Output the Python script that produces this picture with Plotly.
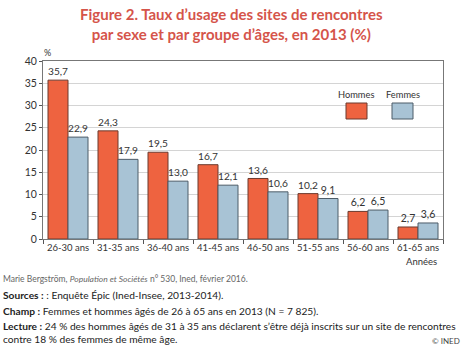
import plotly.graph_objects as go

categories = ["26-30 ans", "31-35 ans", "36-40 ans", "41-45 ans", "46-50 ans", "51-55 ans", "56-60 ans", "61-65 ans"]
hommes = [35.7, 24.3, 19.5, 16.7, 13.6, 10.2, 6.2, 2.7]
femmes = [22.9, 17.9, 13.0, 12.1, 10.6, 9.1, 6.5, 3.6]
y_ticks = [0, 5, 10, 15, 20, 25, 30, 35, 40]

def fmt(v):
    return f"{v:.1f}".replace(".", ",")

FONT = "Lato"
C_H = "#EE6340"
C_F = "#A8C3D5"

fig = go.Figure()
fig.add_trace(go.Bar(x=categories, y=hommes, name="Hommes", marker=dict(color=C_H, line=dict(color="#6b3a2e", width=1)),
                     text=[fmt(v) for v in hommes], textposition="outside", cliponaxis=False,
                     textfont=dict(size=10.5, color="#333333", family=FONT)))
fig.add_trace(go.Bar(x=categories, y=femmes, name="Femmes", marker=dict(color=C_F, line=dict(color="#4d5c68", width=1)),
                     text=[fmt(v) for v in femmes], textposition="outside", cliponaxis=False,
                     textfont=dict(size=10.5, color="#333333", family=FONT)))

W, H = 469, 347
L, R, T, B = 43, 26, 61, 108
pw, ph = W - L - R, H - T - B

fig.update_layout(
    width=W, height=H,
    margin=dict(l=L, r=R, t=T, b=B),
    paper_bgcolor="white", plot_bgcolor="white",
    barmode="group", bargap=0.2, bargroupgap=0,
    showlegend=False,
    font=dict(family=FONT, size=10, color="#333333"),
)
fig.update_xaxes(showline=True, linecolor="#777777", linewidth=1, mirror=True,
                 ticks="outside", tickson="boundaries", ticklen=4, tickcolor="#555555",
                 tickangle=0, tickfont=dict(size=9.5, color="#333333"))
fig.update_yaxes(range=[0, 40], tickvals=y_ticks, showgrid=True, gridcolor="#d4d4d4", gridwidth=1,
                 showline=True, linecolor="#777777", linewidth=1, mirror=True,
                 ticks="outside", ticklen=3, tickcolor="#555555",
                 tickfont=dict(size=10.5, color="#333333"), zeroline=False)

def px(x):
    return (x - L) / pw

def py(y):
    return (H - B - y) / ph

BODY = 10.2
annotations = [
    dict(text="<b>Figure 2. Taux d\u2019usage des sites de rencontres<br>par sexe et par groupe d\u2019âges, en 2013 (%)</b>",
         x=px(231), y=py(24), xanchor="center", yanchor="middle",
         font=dict(size=15, color="#D5544A", family=FONT), align="center"),
    dict(text="%", x=px(47), y=py(52), xanchor="center", yanchor="middle", font=dict(size=9)),
    dict(text="Années", x=px(421), y=py(261), xanchor="center", yanchor="middle", font=dict(size=9.5)),
    dict(text="Hommes", x=px(356), y=py(94), xanchor="center", yanchor="middle", font=dict(size=9.3)),
    dict(text="Femmes", x=px(403), y=py(94), xanchor="center", yanchor="middle", font=dict(size=9.3)),
    dict(text="Marie Bergström, <i>Population et Sociétés</i> n° 530, Ined, février 2016.",
         x=px(1), y=py(279), xanchor="left", yanchor="middle", font=dict(size=8.5, color="#666666")),
    dict(text="<b>Sources :</b> : Enquête Épic (Ined-Insee, 2013-2014).",
         x=px(1), y=py(295), xanchor="left", yanchor="middle", font=dict(size=BODY, color="#222222")),
    dict(text="<b>Champ :</b> Femmes et hommes âgés de 26 à 65 ans en 2013 (N = 7 825).",
         x=px(1), y=py(311), xanchor="left", yanchor="middle", font=dict(size=BODY, color="#222222")),
    dict(text="<b>Lecture :</b> 24 % des hommes âgés de 31 à 35 ans déclarent s\u2019être déjà inscrits sur un site de rencontres",
         x=px(1), y=py(326), xanchor="left", yanchor="middle", font=dict(size=BODY, color="#222222")),
    dict(text="contre 18 % des femmes de même âge.",
         x=px(1), y=py(339), xanchor="left", yanchor="middle", font=dict(size=BODY, color="#222222")),
    dict(text="© INED", x=px(462), y=py(341), xanchor="right", yanchor="middle", font=dict(size=8, color="#444444")),
]
for a in annotations:
    a.update(xref="paper", yref="paper", showarrow=False)
fig.update_layout(annotations=annotations)

shapes = [
    dict(type="rect", x0=px(346), x1=px(367), y0=py(119), y1=py(103), fillcolor=C_H, line=dict(color="#6b3a2e", width=1)),
    dict(type="rect", x0=px(392), x1=px(413), y0=py(119), y1=py(103), fillcolor=C_F, line=dict(color="#4d5c68", width=1)),
]
for s in shapes:
    s.update(xref="paper", yref="paper")
fig.update_layout(shapes=shapes)

fig.write_html("out.html")
